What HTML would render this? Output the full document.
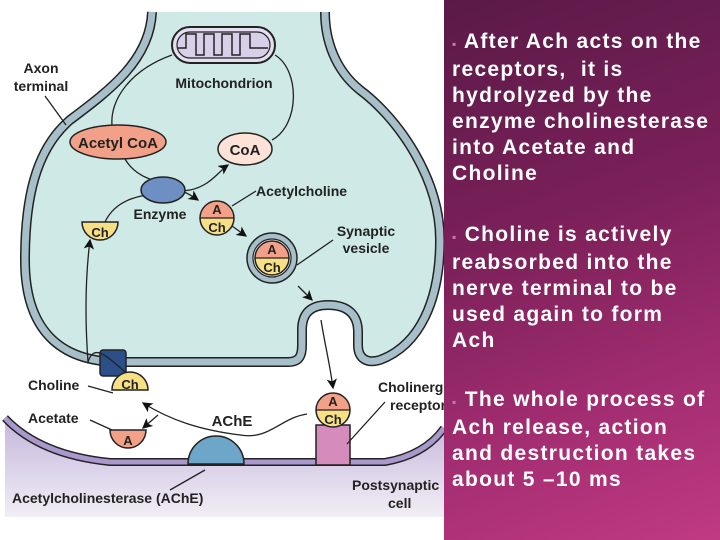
<!DOCTYPE html>
<html><head><style>
html,body{margin:0;padding:0;width:720px;height:540px;overflow:hidden;background:#fff}
#panel{position:absolute;left:444px;top:0;width:276px;height:540px;background:linear-gradient(160deg,#5a1a48 0%,#7a2058 40%,#a52e72 75%,#c03a82 100%)}
#panel p{margin:0;color:#fff;font:bold 21px/26px "Liberation Sans",sans-serif;padding-left:8px;letter-spacing:1.3px;white-space:nowrap}
.b{color:#c77aa5;font-size:12px}
svg{position:absolute;left:0;top:0}
text{font-family:"Liberation Sans",sans-serif;font-weight:bold;fill:#222}
</style></head><body>
<svg width="444" height="540" viewBox="0 0 444 540">
<defs>
<linearGradient id="pg" x1="0" y1="0" x2="0" y2="1"><stop offset="0" stop-color="#c5b5dc"/><stop offset="1" stop-color="#f1eef5"/></linearGradient>
<marker id="ar" markerWidth="8" markerHeight="8" refX="7" refY="4" orient="auto"><path d="M0,0 L8,4 L0,8 L2,4z" fill="#111"/></marker>
</defs>
<path d="M5,418 Q40,455 110,462 L385,462 Q425,455 444,428 L444,517 L5,517 Z" fill="url(#pg)"/>
<path d="M5,418 Q40,455 110,462 L385,462 Q425,455 444,428" fill="none" stroke="#222" stroke-width="8"/>
<path d="M5,418 Q40,455 110,462 L385,462 Q425,455 444,428" fill="none" stroke="#a898cc" stroke-width="5"/>
<path d="M188,464 A28,28 0 0 1 244,464 Z" fill="#6da6c8" stroke="#222" stroke-width="1.5"/>
<rect x="316" y="425" width="34" height="40" fill="#d68bbd" stroke="#222" stroke-width="1.5"/>
<path d="M152,12 C150,60 110,90 70,120 C35,150 25,200 25,260 C25,330 60,362 120,362 L288,362 C300,362 302,355 302,345 L302,330 C302,312 312,305 328,305 C348,305 358,315 358,332 L358,345 C358,358 366,364 380,360 C420,345 440,300 440,240 C440,180 400,120 360,90 C335,70 325,40 325,12" fill="#cfe9e6" stroke="#222" stroke-width="10"/>
<path d="M152,12 C150,60 110,90 70,120 C35,150 25,200 25,260 C25,330 60,362 120,362 L288,362 C300,362 302,355 302,345 L302,330 C302,312 312,305 328,305 C348,305 358,315 358,332 L358,345 C358,358 366,364 380,360 C420,345 440,300 440,240 C440,180 400,120 360,90 C335,70 325,40 325,12" fill="none" stroke="#a7bfc8" stroke-width="7"/>
<rect x="100" y="350" width="26" height="26" rx="3" fill="#2c4f8a" stroke="#222" stroke-width="1.5"/>
<rect x="172" y="27" width="103" height="36" rx="18" fill="#e4def0" stroke="#222" stroke-width="2"/>
<rect x="177" y="32" width="93" height="26" rx="13" fill="#d8d0e8" stroke="#222" stroke-width="1.2"/>
<path d="M178,48 L186,48 L186,34 L196,34 L196,55 L204,55 L204,34 L214,34 L214,55 L222,55 L222,34 L232,34 L232,55 L240,55 L240,34 L250,34 L250,48 L268,48" fill="none" stroke="#222" stroke-width="1.5"/>
<text x="224" y="88" font-size="14" text-anchor="middle">Mitochondrion</text>
<text x="41" y="73" font-size="14" text-anchor="middle">Axon</text>
<text x="41" y="91" font-size="14" text-anchor="middle">terminal</text>
<line x1="45" y1="96" x2="66" y2="125" stroke="#222" stroke-width="1.3"/>
<path d="M172,55 C130,70 110,100 112,125" fill="none" stroke="#222" stroke-width="1.3"/>
<path d="M275,55 C300,70 300,125 272,140" fill="none" stroke="#222" stroke-width="1.3"/>
<path d="M125,159 C140,185 170,180 198,200" fill="none" stroke="#222" stroke-width="1.3" marker-end="url(#ar)"/>
<path d="M105,222 C120,190 160,195 190,190 C210,186 218,172 228,165" fill="none" stroke="#222" stroke-width="1.3" marker-end="url(#ar)"/>
<path d="M88,362 C85,320 85,280 90,240" fill="none" stroke="#222" stroke-width="1.3" marker-end="url(#ar)"/>
<path d="M140,385 C110,360 95,340 88,362" fill="none" stroke="#222" stroke-width="1.3"/>
<path d="M232,226 L246,236" stroke="#222" stroke-width="1.3" marker-end="url(#ar)"/>
<path d="M298,286 L312,300" stroke="#222" stroke-width="1.3" marker-end="url(#ar)"/>
<path d="M321,320 C325,345 330,365 333,388" fill="none" stroke="#222" stroke-width="1.3" marker-end="url(#ar)"/>
<path d="M307,414 C280,418 270,440 240,435 C200,430 170,420 143,403" fill="none" stroke="#222" stroke-width="1.3" marker-end="url(#ar)"/>
<path d="M158,415 L143,428" stroke="#222" stroke-width="1.3" marker-end="url(#ar)"/>
<ellipse cx="118" cy="142" rx="48" ry="17" fill="#f2a088" stroke="#222" stroke-width="1.5"/>
<text x="118" y="148" font-size="15" text-anchor="middle">Acetyl CoA</text>
<ellipse cx="245" cy="149" rx="27" ry="16" fill="#fde2d8" stroke="#222" stroke-width="1.5"/>
<text x="245" y="155" font-size="15" text-anchor="middle">CoA</text>
<ellipse cx="163" cy="190" rx="22" ry="13" fill="#6d8fc2" stroke="#222" stroke-width="1.5"/>
<text x="160" y="219" font-size="14" text-anchor="middle">Enzyme</text>
<text x="256" y="196" font-size="14">Acetylcholine</text>
<line x1="232" y1="206" x2="256" y2="191" stroke="#222" stroke-width="1.3"/>
<g id="ach"><path d="M200,218 A17,17 0 0 1 234,218 Z" fill="#f2a088"/><path d="M200,218 A17,17 0 0 0 234,218 Z" fill="#f7df86"/><circle cx="217" cy="218" r="17" fill="none" stroke="#222" stroke-width="1.5"/><line x1="200" y1="218" x2="234" y2="218" stroke="#222" stroke-width="1.3"/><text x="217" y="214" font-size="13" text-anchor="middle">A</text><text x="217" y="232" font-size="13" text-anchor="middle">Ch</text></g>
<path d="M82,222 L118,222 A18,18 0 0 1 82,222 Z" fill="#f7df86" stroke="#222" stroke-width="1.5"/>
<text x="100" y="237" font-size="13" text-anchor="middle">Ch</text>
<circle cx="272" cy="258" r="25" fill="#a7bfc8" stroke="#222" stroke-width="1.5"/>
<circle cx="272" cy="258" r="19" fill="#fff" stroke="#222" stroke-width="1.2"/>
<use href="#ach" transform="translate(55,40)"/>
<text x="366" y="236" font-size="14" text-anchor="middle">Synaptic</text>
<text x="366" y="253" font-size="14" text-anchor="middle">vesicle</text>
<line x1="297" y1="265" x2="333" y2="240" stroke="#222" stroke-width="1.3"/>
<use href="#ach" transform="translate(116,192)"/>
<path d="M112,390 L148,390 A18,18 0 0 0 112,390 Z" fill="#f7df86" stroke="#222" stroke-width="1.5"/>
<text x="130" y="389" font-size="13" text-anchor="middle">Ch</text>
<path d="M110,430 L146,430 A18,18 0 0 1 110,430 Z" fill="#f2a088" stroke="#222" stroke-width="1.5"/>
<text x="128" y="445" font-size="13" text-anchor="middle">A</text>
<text x="28" y="390" font-size="14">Choline</text>
<line x1="88" y1="386" x2="113" y2="393" stroke="#222" stroke-width="1.3"/>
<text x="28" y="423" font-size="14">Acetate</text>
<line x1="90" y1="420" x2="112" y2="430" stroke="#222" stroke-width="1.3"/>
<text x="232" y="426" font-size="15" text-anchor="middle">AChE</text>
<text x="12" y="503" font-size="14">Acetylcholinesterase (AChE)</text>
<line x1="170" y1="490" x2="205" y2="470" stroke="#222" stroke-width="1.3"/>
<text x="378" y="392" font-size="14">Cholinergic</text>
<text x="390" y="410" font-size="14">receptor</text>
<line x1="385" y1="402" x2="347" y2="444" stroke="#222" stroke-width="1.3"/>
<text x="352" y="490" font-size="14">Postsynaptic</text>
<text x="388" y="508" font-size="14">cell</text>
</svg>
<div id="panel">
<div style="height:29px"></div>
<p><span class="b">▪</span> After Ach acts on the<br>receptors,&nbsp; it is<br>hydrolyzed by the<br>enzyme cholinesterase<br>into Acetate and<br>Choline</p>
<div style="height:35px"></div>
<p><span class="b">▪</span> Choline is actively<br>reabsorbed into the<br>nerve terminal to be<br>used again to form<br>Ach</p>
<div style="height:33px"></div>
<p><span class="b">▪</span> The whole process of<br>Ach release, action<br>and destruction takes<br>about 5 –10 ms</p>
</div>
</body></html>
